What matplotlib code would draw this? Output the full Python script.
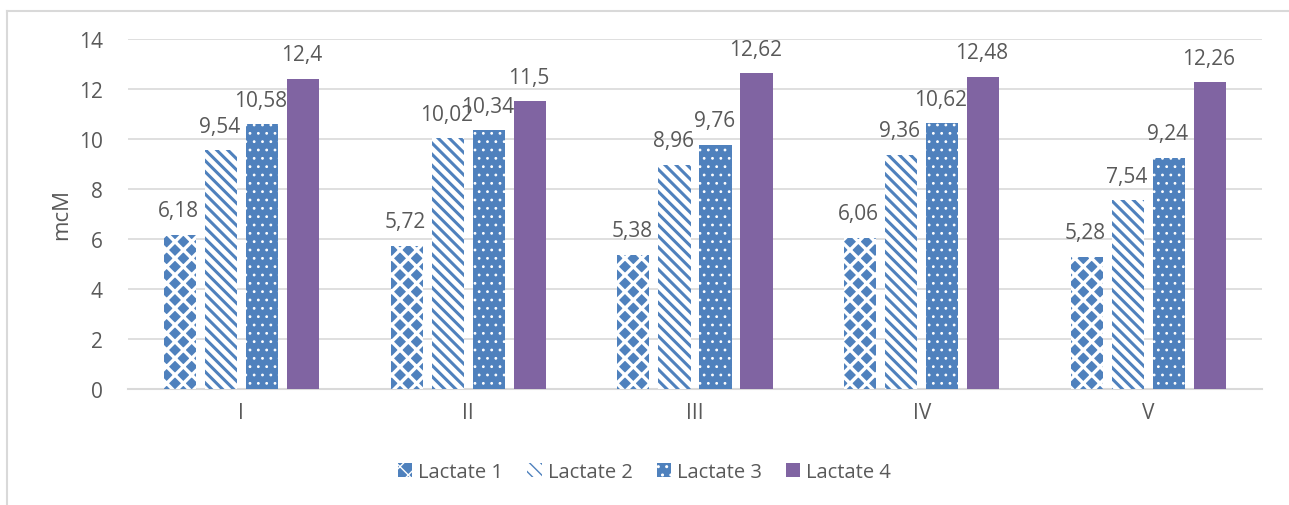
import matplotlib

matplotlib.use("Agg")
import matplotlib.pyplot as plt  # noqa: E402
import numpy as np  # noqa: E402
from matplotlib.lines import Line2D  # noqa: E402

groups = ["I", "II", "III", "IV", "V"]
series_names = ["Lactate 1", "Lactate 2", "Lactate 3", "Lactate 4"]
lactate_1 = [6.18, 5.72, 5.38, 6.06, 5.28]
lactate_2 = [9.54, 10.02, 8.96, 9.36, 7.54]
lactate_3 = [10.58, 10.34, 9.76, 10.62, 9.24]
lactate_4 = [12.4, 11.5, 12.62, 12.48, 12.26]
y_ticks = [0, 2, 4, 6, 8, 10, 12, 14]

BLUE = "#4F81BD"
PURPLE = "#8064A2"
TEXT = "#595959"
GRID = "#D9D9D9"

plt.rcParams["font.family"] = ["Open Sans", "DejaVu Sans"]

# face, hatch colour, hatch pattern, hatch line width per series
styles = [
    dict(facecolor=BLUE, edgecolor="white", hatch="xx", hlw=2.4),
    dict(facecolor="white", edgecolor=BLUE, hatch="\\\\\\", hlw=2.2),
    dict(facecolor=BLUE, edgecolor="white", hatch="..", hlw=0.8),
    dict(facecolor=PURPLE, edgecolor=PURPLE, hatch=None, hlw=1.0),
]

fig = plt.figure(figsize=(12.89, 5.06), dpi=100)
ax = fig.add_axes([0.0993, 0.2292, 0.8797, 0.6918])

x = np.arange(len(groups))
width = 0.142
step = 0.181
values = [lactate_1, lactate_2, lactate_3, lactate_4]

handles = []
for i, (name, vals, st) in enumerate(zip(series_names, values, styles)):
    st = dict(st)
    hlw = st.pop("hlw")
    pos = x + (i - 1.5) * step
    with plt.rc_context({"hatch.linewidth": hlw}):
        bars = ax.bar(pos, vals, width, linewidth=0, label=name, zorder=3, **st)
    handles.append(bars)
    for b, v in zip(bars, vals):
        ax.annotate(f"{v:g}".replace(".", ","),
                    (b.get_x() + b.get_width() / 2, v),
                    xytext=(-1, 10), textcoords="offset points",
                    ha="center", va="bottom", fontsize=15, color=TEXT)

ax.set_xlim(-0.5, len(groups) - 0.5)
ax.set_ylim(0, 14)
ax.set_yticks(y_ticks)
ax.set_xticks(x)
ax.set_xticklabels(groups)
ax.tick_params(length=0, labelsize=15, colors=TEXT)
ax.tick_params(axis="y", pad=18)
ax.tick_params(axis="x", pad=9)
ax.grid(axis="y", color=GRID, linewidth=1.2, zorder=0)
for side in ["top", "right", "left"]:
    ax.spines[side].set_visible(False)
ax.spines["bottom"].set_color(GRID)
ax.spines["bottom"].set_linewidth(1.5)
ax.set_ylabel("mcM", fontsize=16, color=TEXT, labelpad=5)

leg = fig.legend(handles=handles, labels=series_names, loc="center",
                 bbox_to_anchor=(0.5, 0.065), ncol=4, frameon=False,
                 fontsize=14.5, handlelength=0.7, handleheight=0.7,
                 handletextpad=0.3, columnspacing=1.2)
for t in leg.get_texts():
    t.set_color(TEXT)

# chart area border (left and top edges)
fig.add_artist(Line2D([7 / 1289, 7 / 1289], [0, 1 - 12 / 506],
                      color="#D9D9D9", linewidth=1.5, transform=fig.transFigure))
fig.add_artist(Line2D([7 / 1289, 1], [1 - 12 / 506, 1 - 12 / 506],
                      color="#D9D9D9", linewidth=1.5, transform=fig.transFigure))

fig.savefig("out.png", dpi=100, facecolor="white")
